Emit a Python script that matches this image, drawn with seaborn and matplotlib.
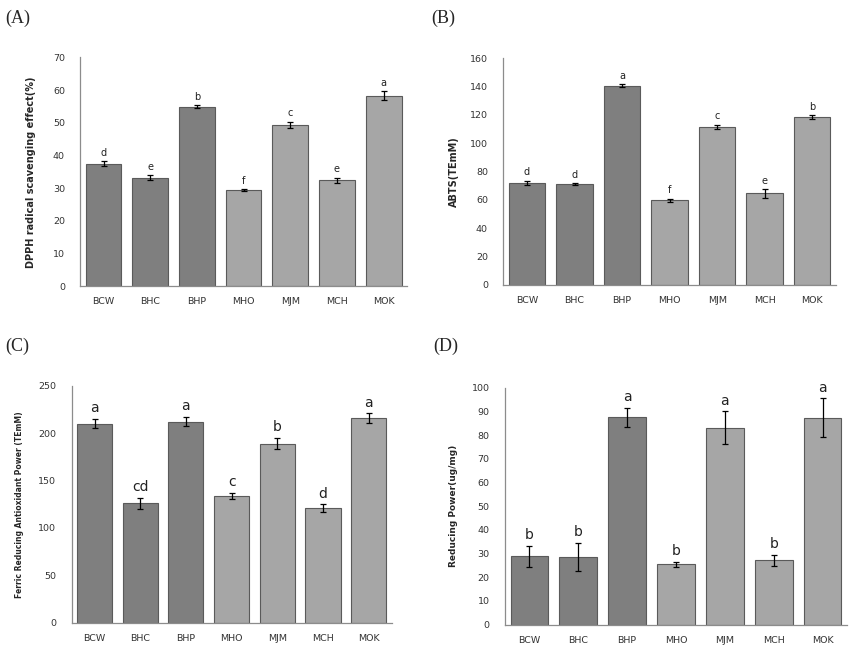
import matplotlib
matplotlib.use("Agg")
import matplotlib.pyplot as plt
import seaborn as sns
import numpy as np
import pandas as pd

# samples (same for all four panels)
samples = ["BCW", "BHC", "BHP", "MHO", "MJM", "MCH", "MOK"]

# (A) DPPH
dpph = [37.5, 33.2, 54.9, 29.4, 49.3, 32.4, 58.3]
dpph_err = [0.8, 0.8, 0.5, 0.2, 1.0, 0.8, 1.3]
dpph_let = ["d", "e", "b", "f", "c", "e", "a"]

# (B) ABTS
abts = [72.0, 71.0, 140.5, 59.7, 111.5, 64.5, 118.5]
abts_err = [1.5, 0.8, 1.0, 1.2, 1.5, 3.0, 1.2]
abts_let = ["d", "d", "a", "f", "c", "e", "b"]

# (C) FRAP
frap = [210, 126, 212, 134, 189, 121, 216]
frap_err = [5, 6, 5, 3, 6, 4, 5]
frap_let = ["a", "cd", "a", "c", "b", "d", "a"]

# (D) reducing power
rp = [28.8, 28.5, 87.5, 25.5, 83.0, 27.2, 87.3]
rp_err = [4.5, 6.0, 4.0, 1.0, 7.0, 2.3, 8.2]
rp_let = ["b", "b", "a", "b", "a", "b", "a"]

sns.set_style("white")

dark = "#7f7f7f"
light = "#a6a6a6"
colors = [dark] * 3 + [light] * 4

fig = plt.figure(figsize=(8.53, 6.46), dpi=100)

panels = [
    # tag, values, err, letters, ylabel, ymax, step, rect, letter size, ylabel size, tag pos, labelpad
    ("(A)", dpph, dpph_err, dpph_let, "DPPH radical scavenging effect(%)", 70, 10,
     [0.094, 0.557, 0.383, 0.354], 7, 7, (0.006, 0.985), 12),
    ("(B)", abts, abts_err, abts_let, "ABTS(TEmM)", 160, 20,
     [0.590, 0.559, 0.390, 0.351], 7, 7, (0.506, 0.985), 8),
    ("(C)", frap, frap_err, frap_let, "Ferric Reducing Antioxidant Power (TEmM)", 250, 50,
     [0.084, 0.036, 0.375, 0.367], 10, 5.5, (0.006, 0.478), 10),
    ("(D)", rp, rp_err, rp_let, "Reducing Power(ug/mg)", 100, 10,
     [0.592, 0.033, 0.401, 0.367], 10, 6.5, (0.508, 0.478), 10),
]

for tag, vals, err, lets, ylab, ymax, step, rect, lsize, ysize, tpos, lpad in panels:
    ax = fig.add_axes(rect)
    df = pd.DataFrame({"sample": samples, "value": vals})
    sns.barplot(data=df, x="sample", y="value", hue="sample", palette=colors,
                legend=False, width=0.77, edgecolor="#5a5a5a", linewidth=0.8,
                errorbar=None, ax=ax)
    x = np.arange(len(samples))
    ax.errorbar(x, vals, yerr=err, fmt="none", ecolor="black", elinewidth=0.9,
                capsize=2.5, capthick=0.9)
    for xi, v, e, l in zip(x, vals, err, lets):
        ax.text(xi, v + e + ymax * 0.015, l, ha="center", va="bottom",
                fontsize=lsize, color="#222222")
    ax.set_xlim(-0.5, 6.5)
    ax.set_ylim(0, ymax)
    ax.set_yticks(np.arange(0, ymax + 1, step))
    ax.set_xlabel("")
    ax.set_ylabel(ylab, fontsize=ysize, fontweight="bold", labelpad=lpad)
    ax.tick_params(axis="both", length=0, labelsize=6.8, labelcolor="#333333")
    ax.tick_params(axis="x", pad=8)
    ax.tick_params(axis="y", pad=11)
    sns.despine(ax=ax)
    for s in ["left", "bottom"]:
        ax.spines[s].set_color("#8c8c8c")
        ax.spines[s].set_linewidth(0.9)
    fig.text(tpos[0], tpos[1], tag, ha="left", va="top", fontsize=13,
             family="Liberation Serif")

fig.savefig("out.png", dpi=100)
